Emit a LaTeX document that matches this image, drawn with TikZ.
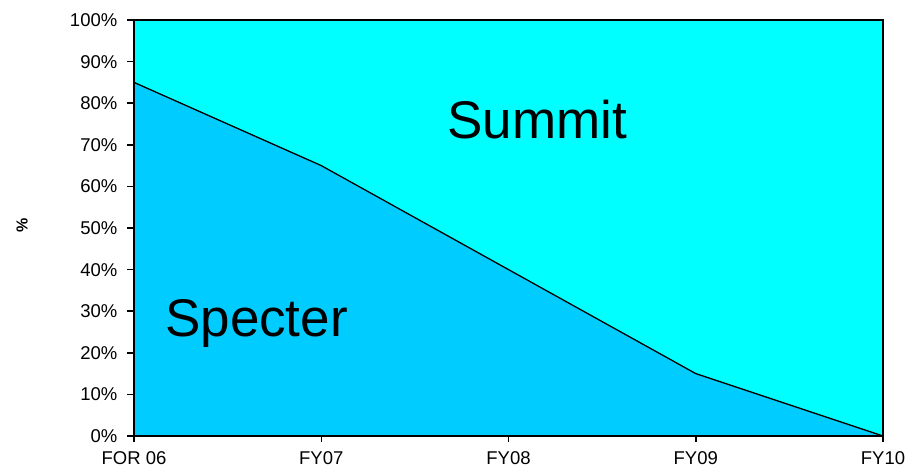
\documentclass[tikz,border=0pt]{standalone}
\usepackage{fontspec}
\setmainfont{Liberation Sans}
\usepackage{tikz}
\usetikzlibrary{calc}
\definecolor{summit}{RGB}{0,255,255}
\definecolor{specter}{RGB}{0,204,255}

\begin{document}
\begin{tikzpicture}[x=1pt,y=1pt,
  ticklabel/.style={font=\fontsize{18.5}{18.5}\selectfont,inner sep=0pt},
  arealabel/.style={font=\fontsize{53}{53}\selectfont,inner sep=0pt,anchor=base west},
  axisline/.style={black,line width=1.5pt}]
\useasboundingbox (0,0) rectangle (907,468);
% plot area
\coordinate (o) at (134,32);
\coordinate (tr) at (883,448);
\coordinate (p0) at (134,{32+85*4.16});
\coordinate (p1) at (321.25,{32+65*4.16});
\coordinate (p2) at (508.5,{32+40*4.16});
\coordinate (p3) at (695.75,{32+15*4.16});
\coordinate (p4) at (883,32);
\fill[summit] (o) rectangle (tr);
\fill[specter] (o) -- (p0) -- (p1) -- (p2) -- (p3) -- (p4) -- cycle;
\draw[black,line width=1.3pt,line join=round] (p0) -- (p1) -- (p2) -- (p3) -- (p4);
\draw[axisline] (o) rectangle (tr);
% y axis
\foreach \v in {0,10,...,100}{
  \draw[axisline] (127,{32+\v*4.16}) -- (134,{32+\v*4.16});
  \node[ticklabel,anchor=base east] (yl\v) at (117.5,{25.5+\v*4.16}) {\v\%};
}
% x axis
\foreach \i/\t in {0/FOR 06,1/FY07,2/FY08,3/FY09,4/FY10}{
  \draw[axisline] ({134+\i*187.25},32) -- ({134+\i*187.25},26);
  \node[ticklabel,anchor=base] (xl\i) at ({134+\i*187.25},3.5) {\t};
}
\node[font=\fontsize{16}{16}\selectfont\bfseries,rotate=90] (ylab) at (22,243) {\%};
\node[arealabel] (summit) at (447,329) {Summit};
\node[arealabel] (specter) at (165,131) {Specter};
\end{tikzpicture}
\end{document}
